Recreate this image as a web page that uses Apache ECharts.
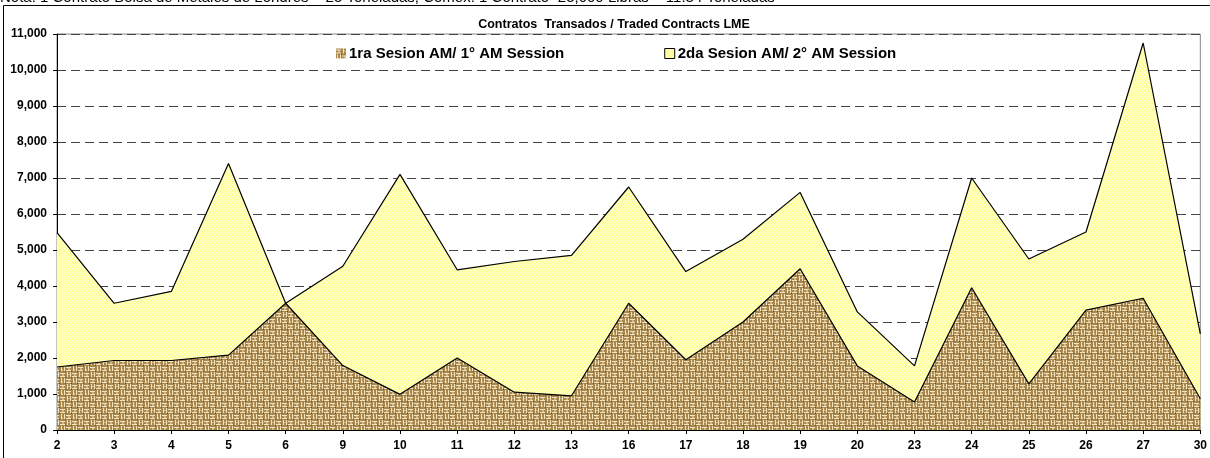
<!DOCTYPE html>
<html>
<head>
<meta charset="utf-8">
<script src="https://cdn.jsdelivr.net/npm/echarts@6/dist/echarts.min.js"></script>
<style>
html,body{margin:0;padding:0;background:#fff;}
#c{width:1210px;height:458px;}
</style>
</head>
<body>
<div id="c"></div>
<script>
const categories = ['2','3','4','5','6','9','10','11','12','13','16','17','18','19','20','23','24','25','26','27','30'];
const session1 = [1750,1930,1930,2080,3520,1790,990,2000,1050,950,3520,1950,3000,4480,1780,780,3950,1280,3330,3660,870];
const session2 = [5480,3520,3850,7400,3520,4550,7100,4450,4680,4850,6750,4400,5300,6600,3280,1780,7000,4750,5500,10750,2670];
const yTicks = { min: 0, max: 11000, interval: 1000 };
const titleText = 'Contratos  Transados / Traded Contracts LME';
const name1 = '1ra Sesion AM/ 1° AM Session';
const name2 = '2da Sesion AM/ 2° AM Session';
const noteText = 'Nota: 1 Contrato Bolsa de Metales de Londres = 25 Toneladas; Comex: 1 Contrato=25,000 Libras = 11.34 Toneladas';

function weave() {
  const c = document.createElement('canvas');
  c.width = 12; c.height = 12;
  const g = c.getContext('2d');
  g.fillStyle = '#a8874f'; g.fillRect(0,0,12,12);
  g.fillStyle = '#f2e4be';
  for (let by = 0; by < 12; by += 6) {
    for (let bx = 0; bx < 12; bx += 6) {
      const horiz = ((bx + by) / 6) % 2 === 0;
      if (horiz) { g.fillRect(bx, by + 1, 5, 1); g.fillRect(bx, by + 4, 5, 1); }
      else { g.fillRect(bx + 1, by, 1, 5); g.fillRect(bx + 4, by, 1, 5); }
    }
  }
  g.fillStyle = '#d2b684';
  g.fillRect(2,2,2,2); g.fillRect(8,8,2,2); g.fillRect(8,2,2,1); g.fillRect(2,9,1,2);
  g.fillStyle = '#6a5029';
  g.fillRect(5,5,1,1); g.fillRect(11,11,1,1); g.fillRect(11,5,1,1); g.fillRect(5,11,1,1);
  return c;
}
function dots() {
  const c = document.createElement('canvas');
  c.width = 4; c.height = 4;
  const g = c.getContext('2d');
  g.fillStyle = '#ffff9e'; g.fillRect(0,0,4,4);
  g.fillStyle = '#ffffee';
  g.fillRect(0,0,1,1); g.fillRect(2,2,1,1);
  return c;
}
const pBrown = { image: weave(), repeat: 'repeat' };
const pYellow = { image: dots(), repeat: 'repeat' };

const chart = echarts.init(document.getElementById('c'), null, { renderer: 'canvas' });
const bold = { fontFamily: 'Arial, "Liberation Sans", sans-serif', fontWeight: 'bold', color: '#000' };
chart.setOption({
  animation: false,
  backgroundColor: '#fff',
  title: {
    text: titleText, left: 609, textAlign: 'center', top: 13,
    textStyle: Object.assign({ fontSize: 12.5 }, bold)
  },
  graphic: [
    { type: 'text', x: 0, y: -10, style: { text: noteText, fontSize: 15, fontFamily: 'Arial, "Liberation Sans", sans-serif', fill: '#000' }, z: 10 },
    { type: 'rect', shape: { x: 3.5, y: 5.5, width: 1300, height: 600 }, style: { fill: 'none', stroke: '#000', lineWidth: 1 }, z: 11, silent: true }
  ],
  legend: {
    left: 331, top: 41, itemGap: 100, itemWidth: 10, itemHeight: 10, icon: 'rect',
    textStyle: Object.assign({ fontSize: 15, padding: [0, 0, 0, -2] }, bold),
    data: [
      { name: name1, itemStyle: { color: pBrown, borderWidth: 0 } },
      { name: name2, itemStyle: { color: pYellow, borderColor: '#000', borderWidth: 1 } }
    ]
  },
  grid: { left: 57, right: 5, top: 34, bottom: 28, show: true, borderColor: '#888', borderWidth: 1, backgroundColor: 'transparent' },
  xAxis: {
    type: 'category', data: categories, boundaryGap: false,
    axisLine: { lineStyle: { color: '#000', width: 1 } },
    axisTick: { show: true, alignWithLabel: true, length: 4, lineStyle: { color: '#000' } },
    axisLabel: Object.assign({ fontSize: 12, margin: 10, interval: 0 }, bold),
    splitLine: { show: false }
  },
  yAxis: {
    type: 'value', min: yTicks.min, max: yTicks.max, interval: yTicks.interval,
    axisLine: { show: true, lineStyle: { color: '#000', width: 1 } },
    axisTick: { show: true, length: 4, lineStyle: { color: '#000' } },
    axisLabel: Object.assign({ fontSize: 12, margin: 10, formatter: v => v.toLocaleString('en-US') }, bold),
    splitLine: { show: true, lineStyle: { color: '#444', type: [9, 5], width: 1 } }
  },
  series: [
    {
      name: name2, type: 'line', data: session2, symbol: 'none', z: 2,
      lineStyle: { color: '#000', width: 1.2 },
      itemStyle: { color: pYellow },
      areaStyle: { color: pYellow, opacity: 1 }
    },
    {
      name: name1, type: 'line', data: session1, symbol: 'none', z: 3,
      lineStyle: { color: '#000', width: 1.2 },
      itemStyle: { color: pBrown },
      areaStyle: { color: pBrown, opacity: 1 }
    }
  ]
});
</script>
</body>
</html>
